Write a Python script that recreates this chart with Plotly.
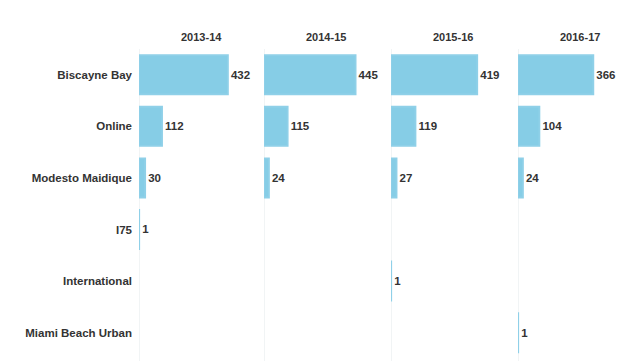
import plotly.graph_objects as go

categories = ["Biscayne Bay", "Online", "Modesto Maidique", "I75", "International", "Miami Beach Urban"]
years = ["2013-14", "2014-15", "2015-16", "2016-17"]
values = {
    "2013-14": [432, 112, 30, 1, None, None],
    "2014-15": [445, 115, 24, None, None, None],
    "2015-16": [419, 119, 27, None, 1, None],
    "2016-17": [366, 104, 24, None, None, 1],
}

W, H = 639, 361
panel_left = [139, 264, 391, 518]
panel_w = 120
top_px = 49
xmax = 583
FONT = "Liberation Sans, Arial"

fig = go.Figure()
for i, yr in enumerate(years):
    ax = "" if i == 0 else str(i + 1)
    vals = values[yr]
    texts = [str(v) if v is not None else "" for v in vals]
    fig.add_trace(go.Bar(
        x=vals, y=categories, orientation="h",
        marker=dict(color="#86cde6", line=dict(width=1.8, color="#8fd0e8")),
        text=texts, textposition="outside", cliponaxis=False,
        textfont=dict(family=FONT, size=11.5, color="#333333", weight="bold"),
        xaxis="x" + ax, yaxis="y", showlegend=False, hoverinfo="skip",
    ))
    d0 = panel_left[i] / W
    d1 = min(1.0, (panel_left[i] + panel_w) / W)
    fig.layout["xaxis" + ax] = dict(
        domain=[d0, d1], range=[0, xmax], showgrid=False, zeroline=True,
        zerolinecolor="#f1f4f5", zerolinewidth=1,
        showticklabels=False, ticks="", anchor="y",
    )
    fig.add_annotation(
        x=(panel_left[i] + 62) / W, y=1 - 37 / H, xref="paper", yref="paper",
        text=yr, showarrow=False, xanchor="center", yanchor="middle",
        font=dict(family=FONT, size=11, color="#333333", weight="bold"),
    )

fig.update_layout(
    width=W, height=H,
    margin=dict(l=0, r=0, t=0, b=0),
    paper_bgcolor="white", plot_bgcolor="white",
    bargap=0.24,
    yaxis=dict(
        domain=[0, 1 - top_px / H],
        range=[5.55, -0.5],
        type="category",
        showgrid=False, zeroline=False,
        tickfont=dict(family=FONT, size=11.5, color="#333333", weight="bold"),
        ticks="", ticklabelstandoff=6,
        anchor="x",
        showline=False,
    ),
)

fig.write_html("out.html")
